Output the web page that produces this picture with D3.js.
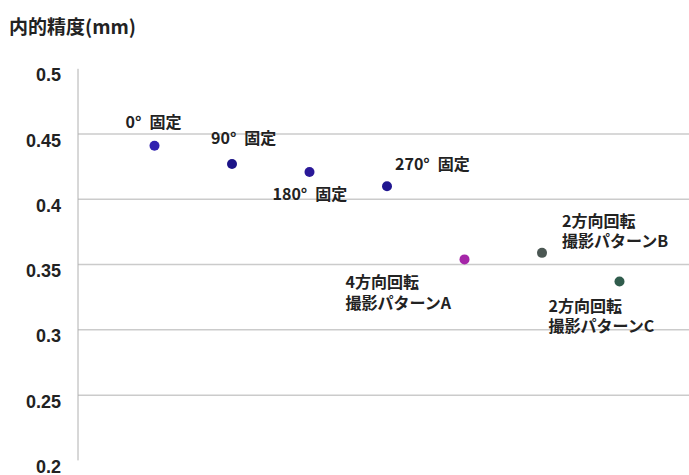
<!DOCTYPE html>
<html><head><meta charset="utf-8">
<script src="https://cdn.jsdelivr.net/npm/d3@7"></script>
<style>
html,body{margin:0;padding:0;background:#fff;}
svg{display:block;}
</style></head>
<body>
<svg id="chart" width="689" height="475"></svg>
<script>
const categories = ["0° 固定","90° 固定","180° 固定","270° 固定","4方向回転 撮影パターンA","2方向回転 撮影パターンB","2方向回転 撮影パターンC"];
const labelLines = [["0°\u2002固定"],["90°\u2002固定"],["180°\u2002固定"],["270°\u2002固定"],["4方向回転","撮影パターンA"],["2方向回転","撮影パターンB"],["2方向回転","撮影パターンC"]];
const values = [0.441, 0.427, 0.421, 0.410, 0.354, 0.359, 0.337];
const yTicks = [0.5, 0.45, 0.4, 0.35, 0.3, 0.25, 0.2];
const gridTicks = [0.45, 0.4, 0.35, 0.3, 0.25];
const colors = ["#3021b0","#1c1488","#2a1898","#201690","#a526a8","#4b5753","#305c4c"];
const yTitle = "内的精度(mm)";

// label layout offsets relative to point (left x, first baseline)
const labelOffsets = [[-29,-18],[-21,-20],[-37,28],[8,-16],[-119,29],[20,-26],[-71,30]];

const svg = d3.select("#chart");
const W = 689, H = 475;
const axisX = 78;
const y = d3.scaleLinear().domain([0.2, 0.5]).range([460.4, 68.8]);
const x = d3.scalePoint().domain(categories).range([77, 697]).padding(1);

const latin = "'Liberation Sans', Arial, sans-serif";
const cjk = "'Noto Sans CJK JP', 'Liberation Sans', sans-serif";

// gridlines
svg.append("g").selectAll("line").data(gridTicks).join("line")
  .attr("x1", axisX).attr("x2", W)
  .attr("y1", d => y(d)).attr("y2", d => y(d))
  .attr("stroke", "#cbcbcb").attr("stroke-width", 1.5);

// y axis line
svg.append("line").attr("x1", axisX).attr("x2", axisX)
  .attr("y1", y(0.5)).attr("y2", y(0.2))
  .attr("stroke", "#b0b0b0").attr("stroke-width", 1);

// tick labels
svg.append("g").selectAll("text").data(yTicks).join("text")
  .attr("x", 61).attr("y", d => y(d) + 12.5)
  .attr("text-anchor", "end")
  .attr("font-family", latin).attr("font-weight", "bold").attr("font-size", 18)
  .attr("fill", "#222")
  .text(d => String(d));

// title
svg.append("text").attr("x", 9).attr("y", 34)
  .attr("font-family", cjk).attr("font-weight", "bold").attr("font-size", 19)
  .attr("fill", "#222").text(yTitle);

// points
svg.append("g").selectAll("circle").data(values).join("circle")
  .attr("cx", (d, i) => x(categories[i]))
  .attr("cy", d => y(d))
  .attr("r", 5)
  .attr("fill", (d, i) => colors[i]);

// labels
const lg = svg.append("g");
values.forEach((v, i) => {
  const px = x(categories[i]), py = y(v);
  labelLines[i].forEach((ln, j) => {
    lg.append("text")
      .attr("font-family", cjk).attr("font-weight", "bold").attr("font-size", 16)
      .attr("fill", "#222")
      .attr("x", px + labelOffsets[i][0])
      .attr("y", py + labelOffsets[i][1] + j * 20.5).text(ln);
  });
});
</script>
</body></html>
